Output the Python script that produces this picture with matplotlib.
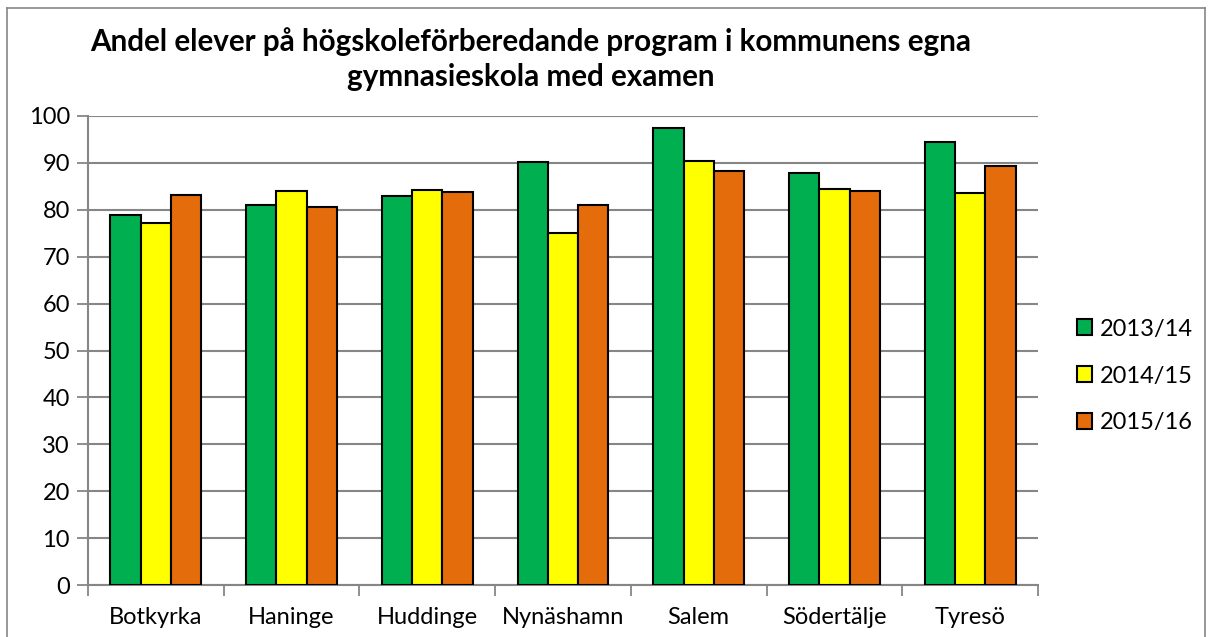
import matplotlib
matplotlib.use("Agg")
import matplotlib.pyplot as plt
import numpy as np
from matplotlib.lines import Line2D

categories = ["Botkyrka", "Haninge", "Huddinge", "Nynäshamn", "Salem", "Södertälje", "Tyresö"]
series_names = ["2013/14", "2014/15", "2015/16"]
v_2013 = [78.9, 81.1, 83.0, 90.2, 97.4, 87.9, 94.4]
v_2014 = [77.1, 84.0, 84.3, 75.1, 90.5, 84.5, 83.5]
v_2015 = [83.1, 80.5, 83.9, 81.0, 88.2, 84.1, 89.3]
colors = ["#00B050", "#FFFF00", "#E46C0A"]
title = "Andel elever på högskoleförberedande program i kommunens egna\ngymnasieskola med examen"

plt.rcParams['font.family'] = ['Lato', 'DejaVu Sans']

W, H = 1212, 637
fig = plt.figure(figsize=(W / 100, H / 100), dpi=100)
ax = fig.add_axes([88 / W, 1 - 585 / H, (1038 - 88) / W, (585 - 116) / H])

x = np.arange(len(categories))
bw = 0.223
for i, (vals, name) in enumerate(zip([v_2013, v_2014, v_2015], series_names)):
    ax.bar(x + (i - 1) * bw, vals, width=bw, color=colors[i], edgecolor="black",
           linewidth=1.5, label=name, zorder=3)

ax.set_xlim(-0.5, len(categories) - 0.5)
ax.set_ylim(0, 100)
ax.set_yticks(np.arange(0, 101, 10))
ax.yaxis.grid(True, color="#868686", linewidth=1.5, zorder=0)
ax.set_axisbelow(True)

ax.set_xticks(x)
ax.set_xticklabels(categories, fontsize=17)
ax.tick_params(axis="x", which="major", length=0, pad=16)
ax.set_xticks(np.arange(-0.5, len(categories), 1.0), minor=True)
ax.tick_params(axis="x", which="minor", length=8, width=1.3, color="#868686")
ax.tick_params(axis="y", length=8, width=1.3, color="#868686", labelsize=17, pad=5)

for s in ["top", "right"]:
    ax.spines[s].set_visible(False)
for s in ["left", "bottom"]:
    ax.spines[s].set_color("#868686")
    ax.spines[s].set_linewidth(1.5)

fig.text(531 / W, 1 - 59 / H, title, ha="center", va="center", fontsize=21.3,
         fontweight="bold", multialignment="center", linespacing=1.32)

leg = ax.legend(loc="center left", bbox_to_anchor=(1077 / W, 1 - 376 / H),
                bbox_transform=fig.transFigure, frameon=False, fontsize=17,
                handlelength=0.65, handleheight=0.65, handletextpad=0.3,
                labelspacing=1.1, borderpad=0, borderaxespad=0)

# outer chart border
c = "#868686"
fig.add_artist(Line2D([7 / W, 7 / W], [0, 1 - 8 / H], color=c, linewidth=1.2, transform=fig.transFigure))
fig.add_artist(Line2D([7 / W, 1205 / W], [1 - 8 / H, 1 - 8 / H], color=c, linewidth=1.2, transform=fig.transFigure))
fig.add_artist(Line2D([1205 / W, 1205 / W], [0, 1 - 8 / H], color=c, linewidth=1.2, transform=fig.transFigure))

fig.savefig("out.png", dpi=100)
